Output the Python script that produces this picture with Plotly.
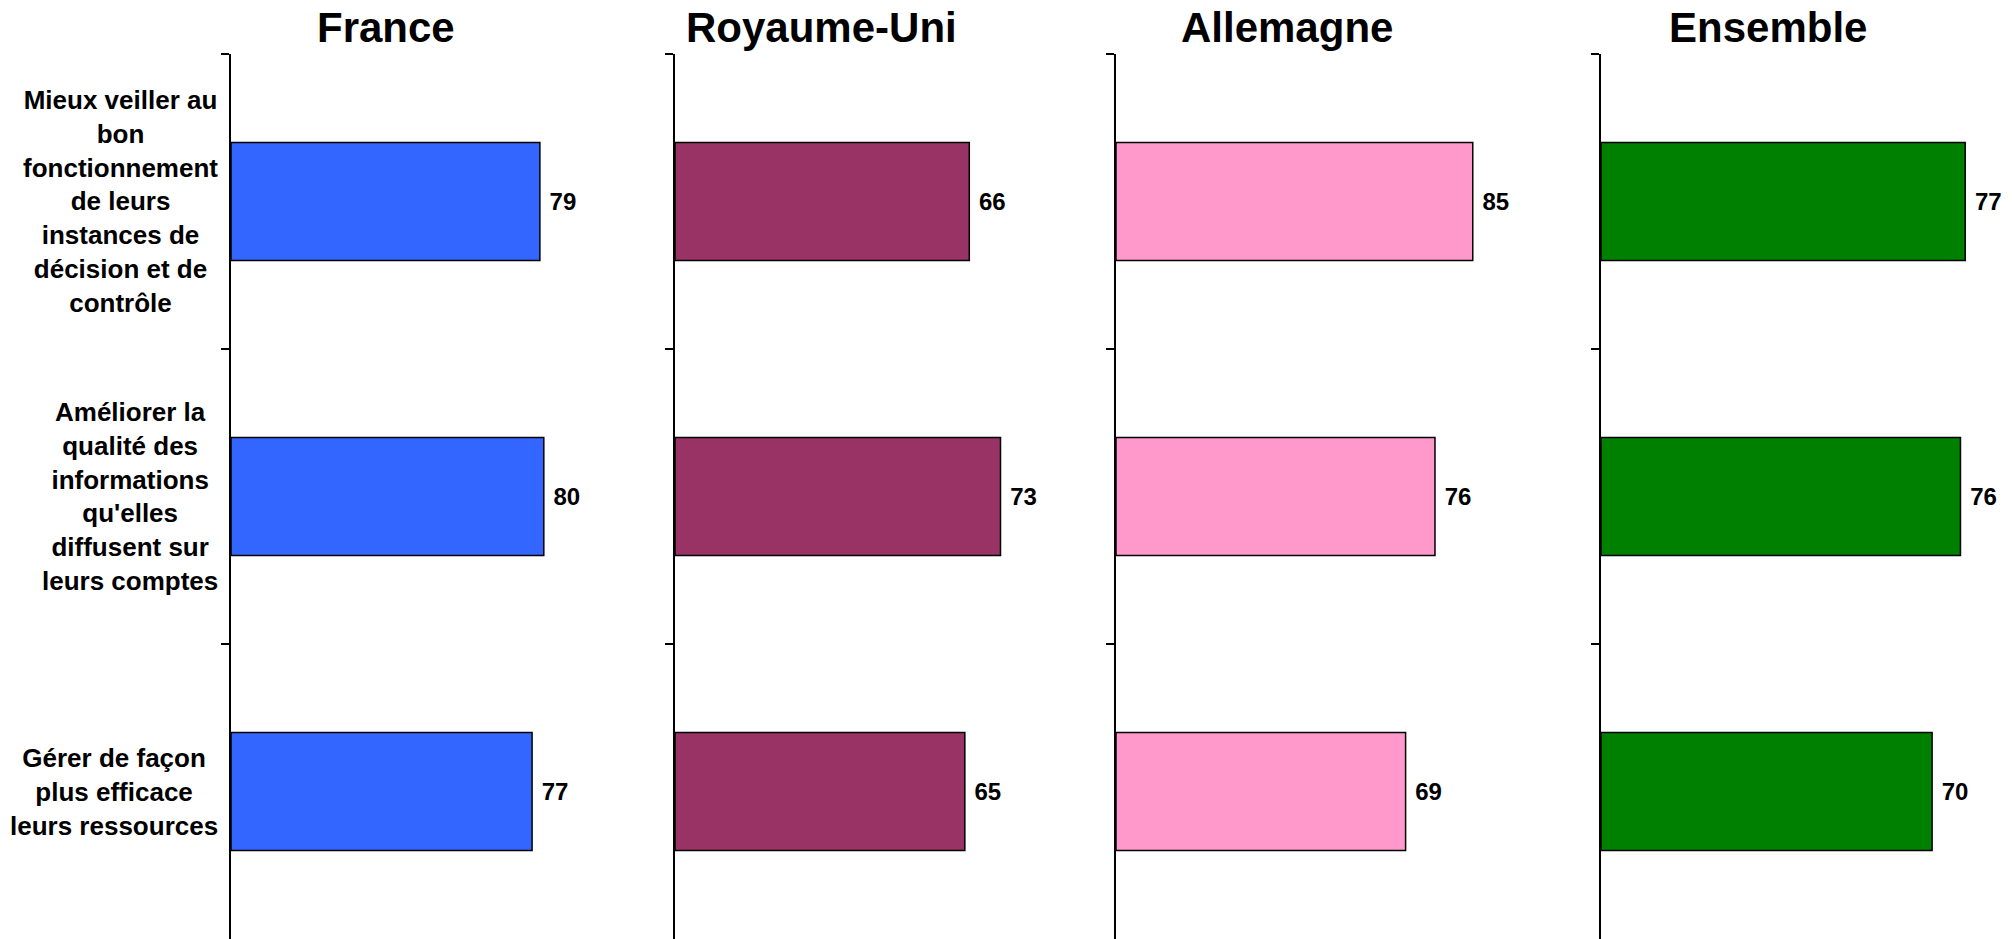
import plotly.graph_objects as go

W, H = 2012, 939

categories = [
    "Mieux veiller au<br>bon<br>fonctionnement<br>de leurs<br>instances de<br>décision et de<br>contrôle",
    "Améliorer la<br>qualité des<br>informations<br>qu'elles<br>diffusent sur<br>leurs comptes",
    "Gérer de façon<br>plus efficace<br>leurs ressources",
]
cat_keys = ["c1", "c2", "c3"]

panels = ["France", "Royaume-Uni", "Allemagne", "Ensemble"]
france = [79, 80, 77]
royaume_uni = [66, 73, 65]
allemagne = [85, 76, 69]
ensemble = [77, 76, 70]
series = [france, royaume_uni, allemagne, ensemble]
colors = ["#3366FF", "#993366", "#FF99CC", "#008000"]

# layout (pixels)
axis_x = [231, 675, 1116, 1601]
px_per_unit = [3.91, 4.459, 4.197, 4.73]
dom_end = [640, 1080, 1540, 2012]
title_cx = [386, 821, 1287, 1768]
top_px = 54

FONT = "Liberation Sans, Arial, sans-serif"

fig = go.Figure()
layout = dict(
    width=W, height=H,
    margin=dict(l=0, r=0, t=0, b=0),
    paper_bgcolor="white", plot_bgcolor="white",
    showlegend=False,
    font=dict(family=FONT, color="black"),
    annotations=[],
)

for i in range(4):
    n = "" if i == 0 else str(i + 1)
    fig.add_trace(go.Bar(
        orientation="h",
        y=cat_keys, x=series[i],
        xaxis="x" + n, yaxis="y" + n,
        marker=dict(color=colors[i], line=dict(color="black", width=1.5)),
        width=0.4,
        text=series[i],
        texttemplate="\u00a0%{x}",
        textposition="outside",
        textfont=dict(size=24, family=FONT, color="black", weight="bold"),
        cliponaxis=False,
    ))
    x0 = axis_x[i] / W
    x1 = dom_end[i] / W
    R = (dom_end[i] - axis_x[i]) / px_per_unit[i]
    layout["xaxis" + n] = dict(
        domain=[x0, x1], range=[0, R], anchor="y" + n,
        showline=False, showgrid=False, zeroline=False,
        showticklabels=False, ticks="", fixedrange=True,
    )
    layout["yaxis" + n] = dict(
        domain=[0, 1 - top_px / H], anchor="x" + n,
        type="category", categoryorder="array", categoryarray=cat_keys,
        range=[2.5, -0.5],
        showline=True, linecolor="black", linewidth=2,
        ticks="outside", tickson="boundaries", ticklen=8,
        tickcolor="black", tickwidth=2,
        showgrid=False, zeroline=False, showticklabels=False,
    )
    layout["annotations"].append(dict(
        text=panels[i], x=title_cx[i] / W, y=1 - 28 / H,
        xref="paper", yref="paper", xanchor="center", yanchor="middle",
        showarrow=False,
        font=dict(size=42, family=FONT, color="black", weight="bold"),
    ))

for k, lab in zip(cat_keys, categories):
    layout["annotations"].append(dict(
        text=lab, x=220 / W, y=k, xref="paper", yref="y",
        xanchor="right", yanchor="middle", align="center",
        showarrow=False,
        font=dict(size=26, family=FONT, color="black", weight="bold"),
    ))

fig.update_layout(**layout)
fig.write_html(
    "out.html",
    config={"displayModeBar": False},
    post_script="document.body.style.margin='0';document.body.style.overflow='hidden';",
)
